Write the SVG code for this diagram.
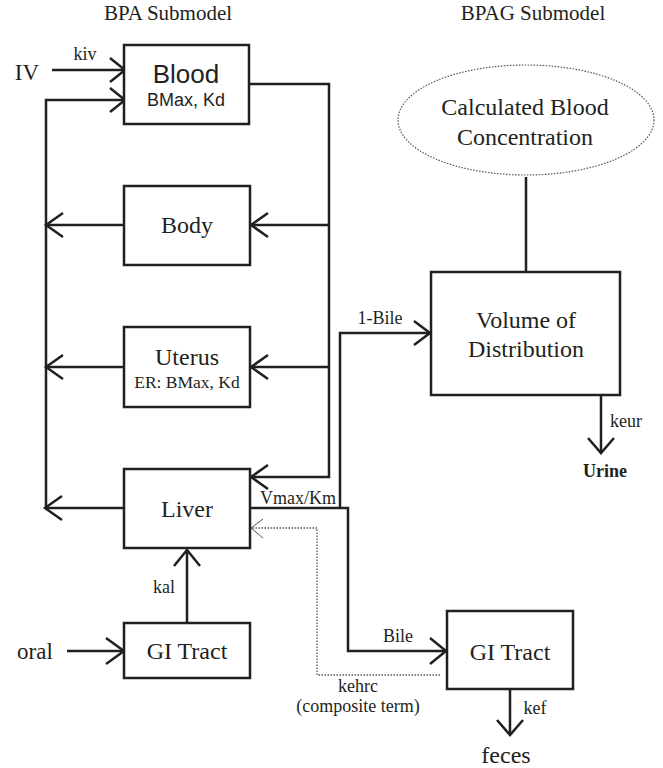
<svg xmlns="http://www.w3.org/2000/svg" width="663" height="768" viewBox="0 0 663 768">
<style>
.box{fill:#fff;stroke:#231f20;stroke-width:2.5}
.ln{fill:none;stroke:#231f20;stroke-width:2.5;stroke-linejoin:miter}
.ah{fill:none;stroke:#231f20;stroke-width:2.5;stroke-linecap:butt}
.dot{fill:none;stroke:#555;stroke-width:1.3;stroke-dasharray:1.5 1.5}
.t{font-family:"Liberation Serif",serif;fill:#231f20;text-anchor:middle}
.s{font-family:"Liberation Sans",sans-serif;fill:#231f20;text-anchor:middle}
.big{font-size:24px}
.sm{font-size:18px}
</style>
<rect width="663" height="768" fill="#fff"/>
<text class="t" x="168" y="20" font-size="21">BPA Submodel</text>
<text class="t" x="533" y="20" font-size="21">BPAG Submodel</text>

<g id="connectors">
  <line class="ln" x1="52" y1="70" x2="125" y2="70"/>
  <polyline class="ah" points="110,58 125,70 110,82"/>
  <polyline class="ln" points="46,508 46,100 125,100"/>
  <polyline class="ah" points="110,88 125,100 110,112"/>
  <polyline class="ln" points="249,84 329,84 329,477 251,477"/>
  <polyline class="ah" points="268,465 251,477 268,489"/>
  <line class="ln" x1="329" y1="225" x2="251" y2="225"/>
  <polyline class="ah" points="268,213 251,225 268,237"/>
  <line class="ln" x1="124" y1="225" x2="46" y2="225"/>
  <polyline class="ah" points="63,213 46,225 63,237"/>
  <line class="ln" x1="329" y1="367" x2="251" y2="367"/>
  <polyline class="ah" points="268,355 251,367 268,379"/>
  <line class="ln" x1="124" y1="367" x2="46" y2="367"/>
  <polyline class="ah" points="63,355 46,367 63,379"/>
  <line class="ln" x1="124" y1="508" x2="45" y2="508"/>
  <polyline class="ah" points="62,496 45,508 62,520"/>
  <polyline class="ln" points="249,508 348,508 348,651 446,651"/>
  <polyline class="ah" points="430,638 446,651 430,664"/>
  <polyline class="ln" points="340,508 340,333 430,333"/>
  <polyline class="ah" points="414,321 430,333 414,345"/>
  <polyline class="dot" points="440,675 317,675 317,528 251,528"/>
  <polyline points="263,519 251,528 263,538" fill="none" stroke="#555" stroke-width="1"/>
  <line class="ln" x1="187" y1="623" x2="187" y2="550"/>
  <polyline class="ah" points="174,566 187,550 200,566"/>
  <line class="ln" x1="67" y1="651" x2="124" y2="651"/>
  <polyline class="ah" points="106,638 124,651 106,664"/>
  <line class="ln" x1="526" y1="177" x2="526" y2="272"/>
  <line class="ln" x1="601" y1="395" x2="601" y2="453"/>
  <polyline class="ah" points="588,438 601,453 614,438"/>
  <line class="ln" x1="510" y1="690" x2="510" y2="735"/>
  <polyline class="ah" points="497,720 510,735 523,720"/>
</g>

<g id="blood">
  <rect class="box" x="124" y="45" width="125" height="79"/>
  <text class="s" x="186" y="83" font-size="26">Blood</text>
  <text class="s" x="186" y="106" font-size="18">BMax, Kd</text>
</g>
<g id="body">
  <rect class="box" x="124" y="186" width="126" height="79"/>
  <text class="t big" x="187" y="233">Body</text>
</g>
<g id="uterus">
  <rect class="box" x="124" y="327" width="126" height="80"/>
  <text class="t big" x="187" y="365">Uterus</text>
  <text class="t" x="187" y="388" font-size="17.5">ER: BMax, Kd</text>
</g>
<g id="liver">
  <rect class="box" x="124" y="469" width="126" height="79"/>
  <text class="t big" x="187" y="517">Liver</text>
</g>
<g id="gi1">
  <rect class="box" x="124" y="623" width="126" height="55"/>
  <text class="t big" x="187" y="659">GI Tract</text>
</g>
<g id="calc">
  <ellipse cx="526" cy="120" rx="128" ry="55" fill="#fff" stroke="#555" stroke-width="1.2" stroke-dasharray="1.5 1.5"/>
  <text class="t big" x="525" y="115">Calculated Blood</text>
  <text class="t big" x="525" y="145">Concentration</text>
</g>
<g id="volume">
  <rect class="box" x="431" y="272" width="189" height="123"/>
  <text class="t big" x="526" y="328">Volume of</text>
  <text class="t big" x="526" y="357">Distribution</text>
</g>
<g id="gi2">
  <rect class="box" x="447" y="611" width="126" height="78"/>
  <text class="t big" x="510" y="660">GI Tract</text>
</g>

<g id="labels">
  <text class="t" x="27" y="80" font-size="23">IV</text>
  <text class="t sm" x="85" y="60">kiv</text>
  <text class="t" x="35" y="659" font-size="23">oral</text>
  <text class="t sm" x="164" y="593">kal</text>
  <text class="t sm" x="298" y="504">Vmax/Km</text>
  <text class="t sm" x="380" y="324">1-Bile</text>
  <text class="t sm" x="398" y="642">Bile</text>
  <text class="t sm" x="358" y="692">kehrc</text>
  <text class="t sm" x="358" y="712">(composite term)</text>
  <text class="t sm" x="626" y="427">keur</text>
  <text class="t sm" x="605" y="477" font-weight="bold">Urine</text>
  <text class="t sm" x="535" y="714">kef</text>
  <text class="t" x="506" y="763" font-size="24">feces</text>
</g>
</svg>
